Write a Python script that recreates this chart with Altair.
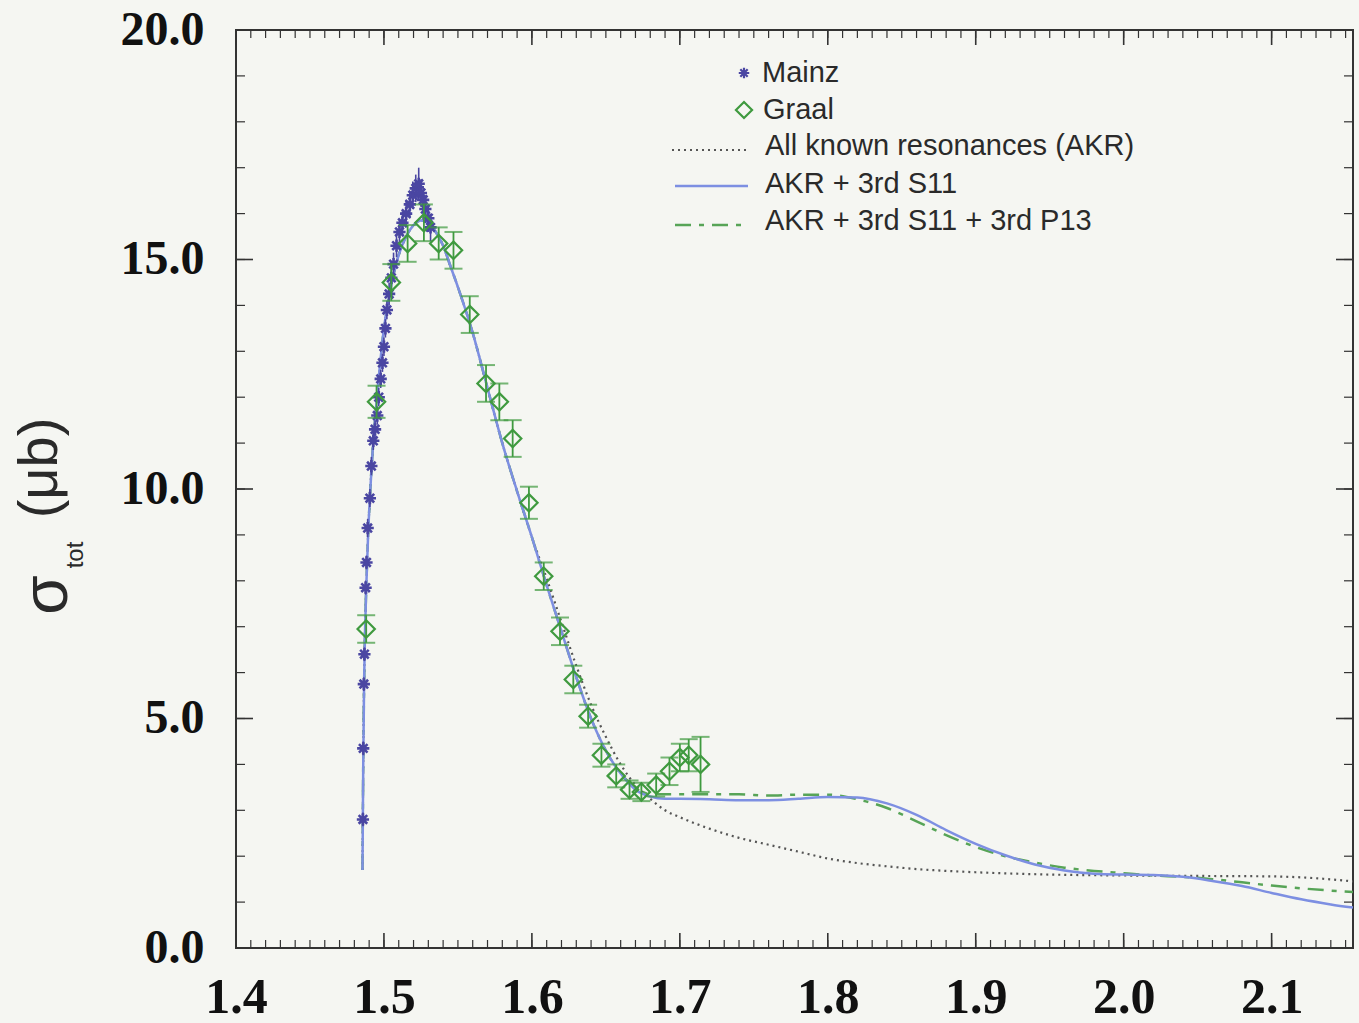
import altair as alt
import pandas as pd

# ---------------- data ----------------
mainz_w = [1.4858, 1.4860, 1.4864, 1.4868, 1.4876, 1.4882, 1.4890, 1.4905, 1.4915, 1.4928,
           1.4940, 1.4955, 1.4965, 1.4978, 1.4990, 1.5000, 1.5010, 1.5020, 1.5035, 1.5050,
           1.5065, 1.5085, 1.5105, 1.5125, 1.5150, 1.5175, 1.5195, 1.5215, 1.5235, 1.5250,
           1.5265, 1.5280, 1.5300, 1.5315]
mainz_sigma = [2.8, 4.35, 5.75, 6.4, 7.85, 8.4, 9.15, 9.8, 10.5, 11.05,
               11.3, 11.6, 12.0, 12.4, 12.75, 13.1, 13.5, 13.9, 14.25, 14.6,
               14.9, 15.3, 15.6, 15.8, 16.0, 16.2, 16.4, 16.55, 16.65, 16.45,
               16.3, 16.1, 15.9, 15.7]
mainz_err = [0.15, 0.15, 0.15, 0.15, 0.15, 0.15, 0.2, 0.2, 0.2, 0.2,
             0.2, 0.2, 0.2, 0.2, 0.2, 0.2, 0.2, 0.2, 0.25, 0.25,
             0.25, 0.25, 0.25, 0.25, 0.3, 0.3, 0.3, 0.3, 0.35, 0.3,
             0.3, 0.3, 0.3, 0.3]

graal_w = [1.488, 1.495, 1.505, 1.516, 1.527, 1.537, 1.547, 1.558, 1.569, 1.578,
           1.587, 1.598, 1.608, 1.619, 1.628, 1.638, 1.647, 1.657, 1.666, 1.674,
           1.684, 1.693, 1.700, 1.706, 1.714]
graal_sigma = [6.95, 11.9, 14.5, 15.35, 15.8, 15.35, 15.2, 13.8, 12.3, 11.9,
               11.1, 9.7, 8.1, 6.9, 5.85, 5.05, 4.2, 3.75, 3.45, 3.4,
               3.55, 3.85, 4.15, 4.2, 4.0]
graal_err = [0.3, 0.35, 0.4, 0.4, 0.4, 0.35, 0.4, 0.4, 0.4, 0.4,
             0.4, 0.35, 0.3, 0.3, 0.3, 0.25, 0.25, 0.25, 0.2, 0.2,
             0.25, 0.3, 0.3, 0.35, 0.6]

# rising part shared by all three model curves
rise_w = [1.4855, 1.4860, 1.4866, 1.4873, 1.4882, 1.4893, 1.4908, 1.4925, 1.4945, 1.4970,
          1.5000, 1.5030, 1.5060, 1.5100, 1.515, 1.520, 1.525, 1.530, 1.535, 1.540,
          1.545, 1.550, 1.560, 1.570, 1.580, 1.590, 1.600]
rise_sigma = [1.7, 4.0, 5.8, 7.0, 8.0, 9.0, 10.0, 10.9, 11.7, 12.6,
              13.5, 14.1, 14.6, 15.1, 15.5, 15.75, 15.85, 15.8, 15.6, 15.3,
              14.85, 14.4, 13.4, 12.2, 11.0, 9.95, 8.95]

akr_w = [1.610, 1.620, 1.630, 1.640, 1.650, 1.660, 1.670, 1.680, 1.690, 1.700,
         1.720, 1.740, 1.760, 1.780, 1.800, 1.820, 1.840, 1.860, 1.880, 1.900,
         1.950, 2.000, 2.050, 2.100, 2.130, 2.155]
akr_sigma = [8.05, 7.1, 6.15, 5.3, 4.6, 4.0, 3.55, 3.25, 3.0, 2.85,
             2.6, 2.4, 2.25, 2.1, 1.95, 1.85, 1.78, 1.72, 1.68, 1.65,
             1.6, 1.58, 1.57, 1.56, 1.52, 1.45]

s11_w = [1.610, 1.620, 1.630, 1.640, 1.650, 1.660, 1.670, 1.680, 1.690, 1.700,
         1.720, 1.740, 1.760, 1.780, 1.800, 1.820, 1.840, 1.860, 1.880, 1.900,
         1.920, 1.940, 1.960, 1.980, 2.000, 2.020, 2.040, 2.060, 2.080, 2.100,
         2.120, 2.140, 2.155]
s11_sigma = [7.9, 6.9, 5.9, 5.0, 4.3, 3.8, 3.45, 3.3, 3.25, 3.25,
             3.24, 3.22, 3.22, 3.25, 3.29, 3.28, 3.15, 2.9, 2.57, 2.27,
             2.02, 1.82, 1.69, 1.62, 1.6, 1.59, 1.55, 1.46, 1.35, 1.2,
             1.06, 0.95, 0.88]

p13_w = [1.610, 1.620, 1.630, 1.640, 1.650, 1.660, 1.670, 1.680, 1.700, 1.720,
         1.740, 1.760, 1.780, 1.800, 1.820, 1.840, 1.860, 1.880, 1.900, 1.920,
         1.940, 1.960, 1.980, 2.000, 2.020, 2.040, 2.060, 2.080, 2.100, 2.120,
         2.140, 2.155]
p13_sigma = [7.9, 6.9, 5.9, 5.0, 4.3, 3.8, 3.5, 3.35, 3.35, 3.35,
             3.35, 3.32, 3.34, 3.34, 3.24, 3.05, 2.76, 2.46, 2.2, 2.0,
             1.86, 1.75, 1.68, 1.63, 1.58, 1.55, 1.5, 1.43, 1.36, 1.3,
             1.25, 1.22]

x_major = [1.4, 1.5, 1.6, 1.7, 1.8, 1.9, 2.0, 2.1]
x_minor = [round(1.4 + 0.01 * i, 2) for i in range(76)]
y_major = [0.0, 5.0, 10.0, 15.0, 20.0]
y_minor = [float(i) for i in range(21)]

legend_labels = ["Mainz", "Graal", "All known resonances (AKR)",
                 "AKR + 3rd S11", "AKR + 3rd S11 + 3rd P13"]
title_parts = ["σ", "tot", "(μb)"]

# ---------------- styles ----------------
W, H = 1117, 918
BG = "#f5f6f2"
C_MAINZ = "#4a46a2"
C_GRAAL = "#3f9a3f"
C_S11 = "#7d8fe2"
C_P13 = "#57a457"
C_AKR = "#555555"
C_TXT = "#2a2a2a"
ASTERISK = "M-1,0L1,0M0,-1L0,1M-0.7,-0.7L0.7,0.7M-0.7,0.7L0.7,-0.7"

xs = alt.Scale(domain=[1.4, 2.155], nice=False, zero=False)
ys = alt.Scale(domain=[0, 20], nice=False)
ax_x = alt.Axis(values=x_major, format=".1f", title=None, ticks=False, domain=False,
                grid=False, labelFont="Liberation Serif", labelFontWeight="bold",
                labelFontSize=50, labelColor="#111111", labelPadding=24,
                labelFlush=False, labelOverlap=False)
ax_y = alt.Axis(values=y_major, format=".1f", title=None, ticks=False, domain=False,
                grid=False, labelFont="Liberation Serif", labelFontWeight="bold",
                labelFontSize=48, labelColor="#111111", labelPadding=32,
                labelOverlap=False)


def X(f):
    return alt.X(f, type="quantitative", scale=xs, axis=ax_x)


def Y(f):
    return alt.Y(f, type="quantitative", scale=ys, axis=ax_y)


mainz = pd.DataFrame({"w": mainz_w, "s": mainz_sigma, "e": mainz_err})
graal = pd.DataFrame({"w": graal_w, "s": graal_sigma, "e": graal_err})
akr = pd.DataFrame({"w": rise_w + akr_w, "s": rise_sigma + akr_sigma})
s11 = pd.DataFrame({"w": rise_w + s11_w, "s": rise_sigma + s11_sigma})
p13 = pd.DataFrame({"w": rise_w + p13_w, "s": rise_sigma + p13_sigma})
xmaj = pd.DataFrame({"v": x_major})
xmin = pd.DataFrame({"v": x_minor})
ymaj = pd.DataFrame({"v": y_major})
ymin = pd.DataFrame({"v": y_minor})
one = pd.DataFrame({"k": [0]})

layers = []

# model curves
layers.append(alt.Chart(akr).mark_line(color=C_AKR, strokeWidth=2.2, strokeDash=[2, 4],
                                       interpolate="monotone")
              .encode(x=X("w"), y=Y("s")))
layers.append(alt.Chart(p13).mark_line(color=C_P13, strokeWidth=2.5, strokeDash=[16, 8, 5, 8],
                                       interpolate="monotone")
              .encode(x=X("w"), y=Y("s")))
layers.append(alt.Chart(s11).mark_line(color=C_S11, strokeWidth=2.5, interpolate="monotone")
              .encode(x=X("w"), y=Y("s")))

# Mainz data
mz = alt.Chart(mainz).transform_calculate(lo="datum.s - datum.e", hi="datum.s + datum.e")
layers.append(mz.mark_rule(color=C_MAINZ, strokeWidth=1.6).encode(x=X("w"), y=Y("lo"), y2="hi:Q"))
layers.append(mz.mark_point(shape=ASTERISK, size=150, color=C_MAINZ, strokeWidth=2.6, opacity=1)
              .encode(x=X("w"), y=Y("s")))

# Graal data
gr = alt.Chart(graal).transform_calculate(lo="datum.s - datum.e", hi="datum.s + datum.e")
layers.append(gr.mark_rule(color=C_GRAAL, strokeWidth=1.8).encode(x=X("w"), y=Y("lo"), y2="hi:Q"))
layers.append(gr.mark_tick(orient="horizontal", size=18, thickness=2, color=C_GRAAL)
              .encode(x=X("w"), y=Y("lo")))
layers.append(gr.mark_tick(orient="horizontal", size=18, thickness=2, color=C_GRAAL)
              .encode(x=X("w"), y=Y("hi")))
layers.append(gr.mark_point(shape="diamond", size=300, color=C_GRAAL, strokeWidth=2.2,
                            filled=False, opacity=1)
              .encode(x=X("w"), y=Y("s")))

# frame ticks (inward) on all four sides
TC = "#333333"
layers.append(alt.Chart(xmaj).mark_rule(color=TC, strokeWidth=1.6)
              .encode(x=X("v"), y=alt.value(H), y2=alt.value(H - 15)))
layers.append(alt.Chart(xmin).mark_rule(color=TC, strokeWidth=1.2)
              .encode(x=X("v"), y=alt.value(H), y2=alt.value(H - 8)))
layers.append(alt.Chart(xmaj).mark_rule(color=TC, strokeWidth=1.6)
              .encode(x=X("v"), y=alt.value(0), y2=alt.value(15)))
layers.append(alt.Chart(xmin).mark_rule(color=TC, strokeWidth=1.2)
              .encode(x=X("v"), y=alt.value(0), y2=alt.value(8)))
layers.append(alt.Chart(ymaj).mark_rule(color=TC, strokeWidth=1.6)
              .encode(y=Y("v"), x=alt.value(0), x2=alt.value(17)))
layers.append(alt.Chart(ymin).mark_rule(color=TC, strokeWidth=1.2)
              .encode(y=Y("v"), x=alt.value(0), x2=alt.value(9)))
layers.append(alt.Chart(ymaj).mark_rule(color=TC, strokeWidth=1.6)
              .encode(y=Y("v"), x=alt.value(W), x2=alt.value(W - 17)))
layers.append(alt.Chart(ymin).mark_rule(color=TC, strokeWidth=1.2)
              .encode(y=Y("v"), x=alt.value(W), x2=alt.value(W - 9)))

# legend (drawn inside the plot)
LF = dict(font="Liberation Sans", fontSize=29, color=C_TXT, align="left", baseline="middle")
layers.append(alt.Chart(one).mark_point(shape=ASTERISK, size=110, color=C_MAINZ, strokeWidth=2.2, opacity=1)
              .encode(x=alt.value(508), y=alt.value(43)))
layers.append(alt.Chart(one).mark_point(shape="diamond", size=260, color=C_GRAAL, strokeWidth=2.2,
                                        filled=False, opacity=1)
              .encode(x=alt.value(508), y=alt.value(80)))
layers.append(alt.Chart(one).mark_rule(color=C_AKR, strokeWidth=2.2, strokeDash=[2, 4])
              .encode(x=alt.value(436), x2=alt.value(512), y=alt.value(120)))
layers.append(alt.Chart(one).mark_rule(color=C_S11, strokeWidth=2.5)
              .encode(x=alt.value(439), x2=alt.value(512), y=alt.value(156)))
layers.append(alt.Chart(one).mark_rule(color=C_P13, strokeWidth=2.5, strokeDash=[16, 8, 5, 8])
              .encode(x=alt.value(439), x2=alt.value(512), y=alt.value(195)))
for lab, tx, ty in zip(legend_labels, [526, 527, 529, 529, 529], [43, 80, 116, 154, 191]):
    layers.append(alt.Chart(one).mark_text(text=lab, **LF)
                  .encode(x=alt.value(tx), y=alt.value(ty)))

# y-axis title with subscript
TF = dict(font="Liberation Sans", color=C_TXT, align="center", baseline="middle", angle=270)
layers.append(alt.Chart(one).mark_text(text=title_parts[0], fontSize=64, **TF)
              .encode(x=alt.value(-188), y=alt.value(565)))
layers.append(alt.Chart(one).mark_text(text=title_parts[1], fontSize=24, **TF)
              .encode(x=alt.value(-160), y=alt.value(525)))
layers.append(alt.Chart(one).mark_text(text=title_parts[2], fontSize=56, **TF)
              .encode(x=alt.value(-196), y=alt.value(438)))

chart = alt.layer(*layers).properties(
    width=W, height=H,
    autosize=alt.AutoSizeParams(type="none"),
    padding={"left": 236, "top": 30, "right": 6, "bottom": 75},
    background=BG,
).configure_view(stroke="#333333", strokeWidth=2)

chart.save("out.html", embed_options={"renderer": "svg", "actions": False})
